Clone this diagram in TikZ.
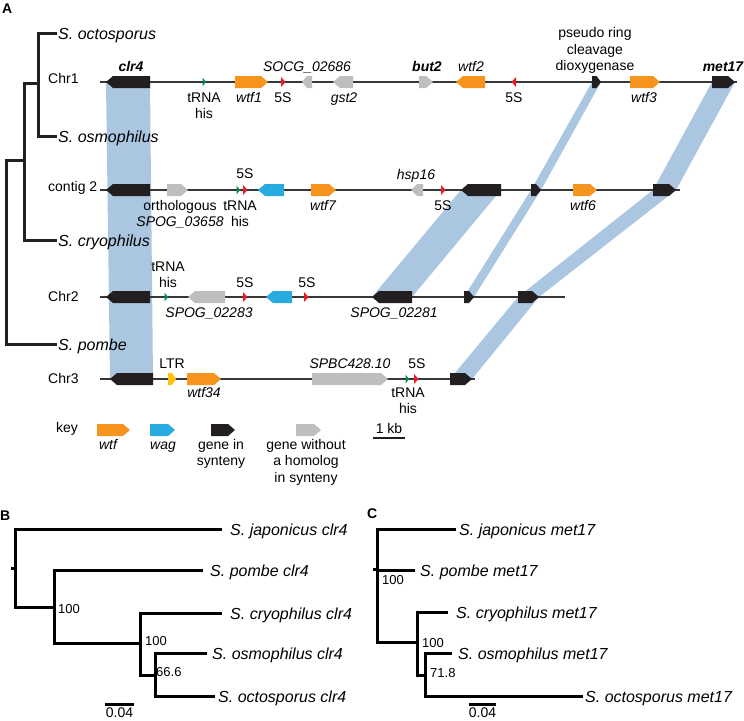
\documentclass[tikz,border=0pt]{standalone}
\usepackage{fontspec}
\setmainfont{Liberation Sans}
\definecolor{cOrange}{RGB}{247,148,29}
\definecolor{cBlue}{RGB}{41,171,226}
\definecolor{cBlack}{RGB}{35,31,32}
\definecolor{cGray}{RGB}{188,190,192}
\definecolor{cRed}{RGB}{237,28,36}
\definecolor{cGreen}{RGB}{0,140,75}
\definecolor{cYellow}{RGB}{255,194,14}
\definecolor{cBand}{RGB}{170,198,225}
\definecolor{cLine}{RGB}{55,55,55}
% gene arrows: x1, x2, y, colour
\newcommand\GeneR[4]{\fill[#4] (#1,#3-6) -- ({#2-min(7,(#2-#1)/2)},#3-6) -- (#2,#3) -- ({#2-min(7,(#2-#1)/2)},#3+6) -- (#1,#3+6) -- cycle;}
\newcommand\GeneL[4]{\fill[#4] (#2,#3-6) -- ({#1+min(7,(#2-#1)/2)},#3-6) -- (#1,#3) -- ({#1+min(7,(#2-#1)/2)},#3+6) -- (#2,#3+6) -- cycle;}
% small RNA marks: x, y
\newcommand\FiveSR[2]{\fill[cRed] (#1-2,#2-5) -- (#1+2.5,#2) -- (#1-2,#2+5) -- cycle;}
\newcommand\FiveSL[2]{\fill[cRed] (#1+2,#2-5) -- (#1-2.5,#2) -- (#1+2,#2+5) -- cycle;}
\newcommand\TRNAR[2]{\fill[cGreen] (#1-1.5,#2-4.5) -- (#1+2,#2) -- (#1-1.5,#2+4.5) -- cycle;}
\begin{document}
\begin{tikzpicture}[x=1pt,y=-1pt,
  lab/.style={font=\fontsize{14}{16}\selectfont, inner sep=0, anchor=base},
  ital/.style={lab, font=\fontsize{14}{16}\selectfont\itshape},
  bital/.style={lab, font=\fontsize{14}{16}\selectfont\bfseries\itshape},
  chrlab/.style={lab, anchor=base west},
  spec/.style={font=\fontsize{16}{18}\selectfont\itshape, inner sep=0, anchor=base west},
  boot/.style={font=\fontsize{13}{15}\selectfont, inner sep=0, anchor=base west},
  panel/.style={font=\fontsize{14}{16}\selectfont\bfseries, inner sep=0, anchor=base west},
  chrline/.style={draw=cLine, line width=1.5},
  treeA/.style={draw=cBlack, line width=3, line join=miter},
  treeB/.style={draw=black, line width=3, line join=miter},
  band/.style={fill=cBand}]
\useasboundingbox (0,0) rectangle (744,720);

% ---------- panel labels ----------
\node[panel] (pA) at (2,13) {A};
\node[panel] (pB) at (0,520) {B};
\node[panel] (pC) at (367,518) {C};

% ---------- synteny bands ----------
\fill[band] (106,82) -- (150,82) -- (153,379) -- (110,379) -- cycle;
\fill[band] (592,82) -- (601,82) -- (541,190) -- (531,190) -- cycle;
\fill[band] (531,190) -- (541,190) -- (474,297) -- (464,297) -- cycle;
\fill[band] (712,82) -- (735,82) -- (676,190) -- (653,190) -- cycle;
\fill[band] (653,190) -- (676,190) -- (539,297) -- (518,297) -- cycle;
\fill[band] (518,297) -- (539,297) -- (472,379) -- (450,379) -- cycle;
\fill[band] (461,190) -- (501,190) -- (412,297) -- (372,297) -- cycle;

% ---------- species tree A ----------
\draw[treeA] (57,33) -- (38,33) -- (38,136) -- (57,136);
\draw[treeA] (38,83) -- (24,83) -- (24,240) -- (57,240);
\draw[treeA] (24,160) -- (6,160) -- (6,344) -- (57,344);
\node[spec] (sOct) at (58,39) {S. octosporus};
\node[spec] (sOsm) at (58,142) {S. osmophilus};
\node[spec] (sCry) at (58,246) {S. cryophilus};
\node[spec] (sPom) at (58,350) {S. pombe};

% ---------- Chr1 ----------
\node[chrlab] (lChr1) at (48,83) {Chr1};
\draw[chrline] (100,82) -- (737,82);
\GeneL{106}{150}{82}{cBlack}
\TRNAR{204}{82}
\GeneR{235}{268}{82}{cOrange}
\FiveSR{283}{82}
\GeneL{302}{312}{82}{cGray}
\GeneL{333}{353}{82}{cGray}
\GeneR{419}{433}{82}{cGray}
\GeneL{456}{485}{82}{cOrange}
\FiveSL{514}{82}
\GeneR{592}{601}{82}{cBlack}
\GeneR{630}{660}{82}{cOrange}
\GeneR{712}{735}{82}{cBlack}
\node[bital] (a1) at (131,71) {clr4};
\node[lab] (a2) at (204,102) {tRNA};
\node[lab] (a3) at (204,118) {his};
\node[ital] (a4) at (249,102) {wtf1};
\node[lab] (a5) at (283,102) {5S};
\node[ital] (a6) at (307,71) {SOCG\_02686};
\node[ital] (a7) at (344,102) {gst2};
\node[bital] (a8) at (427,71) {but2};
\node[ital] (a9) at (471,71) {wtf2};
\node[lab] (a10) at (514,102) {5S};
\node[lab] (a11) at (595,37) {pseudo ring};
\node[lab] (a12) at (595,54) {cleavage};
\node[lab] (a13) at (595,70) {dioxygenase};
\node[ital] (a14) at (644,102) {wtf3};
\node[bital] (a15) at (723,71) {met17};

% ---------- contig 2 ----------
\node[chrlab] (lCon) at (48,191) {contig 2};
\draw[chrline] (100,190) -- (680,190);
\GeneL{106}{150}{190}{cBlack}
\GeneR{167}{188}{190}{cGray}
\TRNAR{238}{190}
\FiveSR{245}{190}
\GeneL{258}{284}{190}{cBlue}
\GeneR{311}{336}{190}{cOrange}
\GeneL{411}{423}{190}{cGray}
\FiveSR{443}{190}
\GeneL{461}{501}{190}{cBlack}
\GeneR{531}{541}{190}{cBlack}
\GeneR{573}{597}{190}{cOrange}
\GeneR{653}{676}{190}{cBlack}
\node[lab] (b1) at (245,178) {5S};
\node[lab] (b2) at (180,210) {orthologous};
\node[ital] (b3) at (180,226) {SPOG\_03658};
\node[lab] (b4) at (240,210) {tRNA};
\node[lab] (b5) at (240,226) {his};
\node[ital] (b6) at (323,210) {wtf7};
\node[ital] (b7) at (416,179) {hsp16};
\node[lab] (b8) at (443,210) {5S};
\node[ital] (b9) at (583,210) {wtf6};

% ---------- Chr2 ----------
\node[chrlab] (lChr2) at (48,301) {Chr2};
\draw[chrline] (100,297) -- (565,297);
\GeneL{106}{150}{297}{cBlack}
\TRNAR{166}{297}
\GeneL{188}{225}{297}{cGray}
\FiveSR{245}{297}
\GeneL{266}{292}{297}{cBlue}
\FiveSR{306}{297}
\GeneL{372}{412}{297}{cBlack}
\GeneR{464}{474}{297}{cBlack}
\GeneR{518}{539}{297}{cBlack}
\node[lab] (c1) at (168,271) {tRNA};
\node[lab] (c2) at (168,287) {his};
\node[ital] (c3) at (209,317) {SPOG\_02283};
\node[lab] (c4) at (245,287) {5S};
\node[lab] (c5) at (307,287) {5S};
\node[ital] (c6) at (394,317) {SPOG\_02281};

% ---------- Chr3 ----------
\node[chrlab] (lChr3) at (48,383) {Chr3};
\draw[chrline] (100,379) -- (475,379);
\GeneL{110}{153}{379}{cBlack}
\GeneR{168}{176}{379}{cYellow}
\GeneR{187}{221}{379}{cOrange}
\GeneR{312}{388}{379}{cGray}
\TRNAR{407}{379}
\FiveSR{416}{379}
\GeneR{450}{472}{379}{cBlack}
\node[lab] (d1) at (172,368) {LTR};
\node[ital] (d2) at (204,397) {wtf34};
\node[ital] (d3) at (350,368) {SPBC428.10};
\node[lab] (d4) at (417,368) {5S};
\node[lab] (d5) at (408,397) {tRNA};
\node[lab] (d6) at (408,413) {his};

% ---------- key ----------
\node[lab] (k0) at (67,432) {key};
\GeneR{97}{130}{430}{cOrange}
\GeneR{150}{175}{430}{cBlue}
\GeneR{211}{235}{430}{cBlack}
\GeneR{296}{321}{430}{cGray}
\node[ital] (k1) at (108,449) {wtf};
\node[ital] (k2) at (163,449) {wag};
\node[lab] (k3) at (221,449) {gene in};
\node[lab] (k4) at (221,465) {synteny};
\node[lab] (k5) at (306,449) {gene without};
\node[lab] (k6) at (306,465) {a homolog};
\node[lab] (k7) at (306,482) {in synteny};
\node[lab] (k8) at (389,433) {1 kb};
\draw[line width=1.5, draw=cBlack] (373,438) -- (405,438);

% ---------- tree B ----------
\draw[treeB] (222,529) -- (15,529) -- (15,607) -- (54,607);
\draw[treeB] (11,568) -- (15,568);
\draw[treeB] (203,570) -- (54,570) -- (54,643) -- (140,643);
\draw[treeB] (222,613) -- (140,613) -- (140,675) -- (155,675);
\draw[treeB] (207,653) -- (155,653) -- (155,696) -- (215,696);
\node[spec] (bJap) at (230,535) {S. japonicus clr4};
\node[spec] (bPom) at (210,576) {S. pombe clr4};
\node[spec] (bCry) at (230,619) {S. cryophilus clr4};
\node[spec] (bOsm) at (212,659) {S. osmophilus clr4};
\node[spec] (bOct) at (218,702) {S. octosporus clr4};
\node[boot] (bb1) at (58,613.5) {100};
\node[boot] (bb2) at (145,645) {100};
\node[boot] (bb3) at (156,676) {66.6};
\draw[treeB] (105,704) -- (134,704);
\node[lab] (bsc) at (119.5,717) {0.04};

% ---------- tree C ----------
\draw[treeB] (456,529) -- (377,529) -- (377,642) -- (417,642);
\draw[treeB] (373,569) -- (377,569);
\draw[treeB] (377,570) -- (415,570);
\draw[treeB] (448,612) -- (417,612) -- (417,675) -- (425,675);
\draw[treeB] (452,653) -- (425,653) -- (425,696) -- (583,696);
\node[spec] (cJap) at (459,535) {S. japonicus met17};
\node[spec] (cPom) at (420,576) {S. pombe met17};
\node[spec] (cCry) at (456,618) {S. cryophilus met17};
\node[spec] (cOsm) at (458,659) {S. osmophilus met17};
\node[spec] (cOct) at (585,702) {S. octosporus met17};
\node[boot] (cb1) at (382,584) {100};
\node[boot] (cb2) at (422,647) {100};
\node[boot] (cb3) at (430,677) {71.8};
\draw[treeB] (469,704) -- (496,704);
\node[lab] (csc) at (482.5,717) {0.04};
\end{tikzpicture}
\end{document}
